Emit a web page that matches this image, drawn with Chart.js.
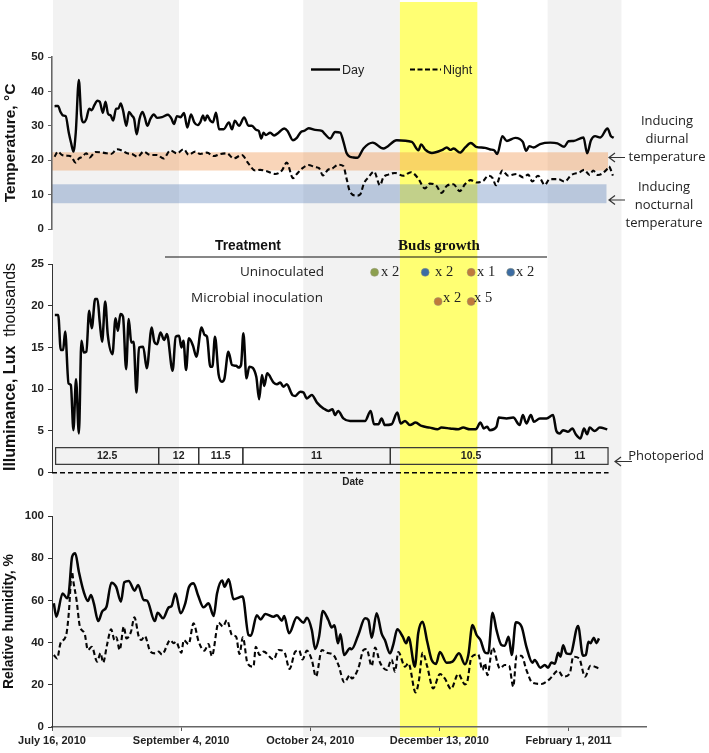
<!DOCTYPE html>
<html>
<head>
<meta charset="utf-8">
<title>Temperature, illuminance and humidity</title>
<script src="https://cdn.jsdelivr.net/npm/chart.js"></script>
<style>
body { margin: 0; background: #fff; width: 709px; height: 753px; position: relative; overflow: hidden; font-family: "Liberation Sans", Arial, sans-serif; color: #222; }
canvas { position: absolute; left: 0; }
#chartTemp { top: 0; }
#chartLux { top: 240px; }
#chartRh { top: 490px; }
svg { position: absolute; left: 0; top: 0; }
.t { position: absolute; white-space: nowrap; transform: translate(-50%, -50%); }
.note { font: 13px "Open Sans", sans-serif; color: #222; }
.count { font: 14.5px "Liberation Serif", serif; color: #222; transform: translate(0, -50%); }
.side { font: 16px "Liberation Sans", sans-serif; transform: translate(-50%, -50%) rotate(-90deg); color: #111; }
</style>
</head>
<body>
<canvas id="chartTemp" width="709" height="240"></canvas>
<canvas id="chartLux" width="709" height="250"></canvas>
<canvas id="chartRh" width="709" height="263"></canvas>

<svg width="709" height="753" fill="none" stroke="#333" stroke-width="1.2">
  <path d="M311 69.5H340" stroke="#000" stroke-width="2.4"/>
  <path d="M410 69.5H441" stroke="#000" stroke-width="2.2" stroke-dasharray="5 2.5"/>
  <path d="M165 257H547" stroke="#111" stroke-width="1.2"/>
  <path d="M625 157.5H609M615 153L609 157.5L615 162"/>
  <path d="M625 200H609M615 195.5L609 200L615 204.5"/>
  <path d="M632 461.5H615M621 457L615 461.5L621 466"/>
</svg>

<div class="t" style="left:342px;top:70px;font-size:12.5px;transform:translate(0,-50%)">Day</div>
<div class="t" style="left:443px;top:70px;font-size:12.5px;transform:translate(0,-50%)">Night</div>

<div class="t note" style="left:667px;top:120px">Inducing</div>
<div class="t note" style="left:667px;top:138px">diurnal</div>
<div class="t note" style="left:667px;top:156px">temperature</div>
<div class="t note" style="left:664px;top:186px">Inducing</div>
<div class="t note" style="left:664px;top:204px">nocturnal</div>
<div class="t note" style="left:664px;top:222px">temperature</div>
<div class="t note" style="left:666px;top:455px">Photoperiod</div>

<div class="t" style="left:248px;top:245px;font-size:13.8px;font-weight:bold;color:#111">Treatment</div>
<div class="t" style="left:439px;top:245px;font:bold 15px 'Liberation Serif',serif;color:#111">Buds growth</div>
<div class="t note" style="left:282px;top:271px;font-size:13.5px">Uninoculated</div>
<div class="t note" style="left:257px;top:297px;font-size:13.5px">Microbial inoculation</div>
<div class="t count" style="left:381px;top:271px">x 2</div>
<div class="t count" style="left:435px;top:271px">x 2</div>
<div class="t count" style="left:477px;top:271px">x 1</div>
<div class="t count" style="left:516px;top:271px">x 2</div>
<div class="t count" style="left:443px;top:297px">x 2</div>
<div class="t count" style="left:474px;top:297px">x 5</div>
<div class="t" style="left:353px;top:481px;font-size:10px;font-weight:bold">Date</div>

<div class="t side" style="left:10px;top:367px"><b>Illuminance, Lux</b>&nbsp;&nbsp;thousands</div>

<script>
// dates on the shared x axis, counted in days since July 16, 2010
var xTickDays = [0, 50, 100, 150, 200];
var xTickLabels = ['July 16, 2010', 'September 4, 2010', 'October 24, 2010', 'December 13, 2010', 'February 1, 2011'];

var tempDayX = [1,2.3,3.3,4.3,5.3,6.5,7.4,8.3,9.2,10.4,11.3,12.3,13.3,14.4,15.4,16.4,17.6,18.5,19.7,20.7,21.7,22.7,23.7,24.8,25.7,26.6,27.5,28.8,29.8,30.9,31.8,32.8,33.9,35,35.9,36.9,38.1,39.4,40.7,42.6,44.9,46.3,47.2,48.4,49.8,51.1,52.4,53.8,55.1,56.4,57.4,58.5,59.2,60.1,61.3,62.3,63.5,64.7,66.5,68.5,69.7,70.8,72.4,74.4,76.1,77.4,79.1,80.1,81,81.9,82.8,84.5,86,87.7,89.9,91.2,93.3,94.8,96.5,97.6,99.4,101.9,104.5,105.8,107.7,109.6,111.6,112.8,114.1,115.4,116.7,118.3,120.6,124.2,128.3,133.5,139.3,141.9,142.9,144.5,147.1,150.9,152.9,154.2,155.5,158,160,162.2,164.2,167.7,169.7,171.2,172.4,174.4,176.1,179.4,182.3,183.6,184.8,186.4,189,192.9,195.7,198.3,200,201.9,205.8,207.2,208.7,210.3,212.3,215.1,216.4,217.5];
var tempDay = [35.7,35.8,34,33,32.8,28,25,22.5,28,43.3,33,31,32,35,34.5,36,37.3,37,33.8,37,33.5,33,31.5,35,35,36.5,34.5,30,34,33,32,27.5,32,34,32.5,30,32,33.3,32.3,32.5,33.2,32,30.5,32.8,32.5,33.7,29.5,33.3,31,30.2,31,33,31.5,33,31.5,31,33.8,29,29,31,29,31.5,30,32.4,30,30,28.8,28.5,26.3,28,27.3,28,27.2,28,29.2,28.5,25.8,26.5,28.3,28.5,29.3,28.8,28.5,27.5,26.3,28.2,28,25.5,22,21,20.8,20.7,23.4,25.1,23.4,25.8,25.3,22.9,24.6,23.1,22.1,22.9,23.7,23,23.4,22.2,23.7,25,23.9,23.6,23.1,22.9,21.8,27,25.6,26.5,25.3,22.7,24.1,23.7,24.7,25.1,24.9,23.9,25.5,25.6,26.6,22,25.8,27,26.6,29.2,27,26.5];

var tempNightX = [1,2.3,3.9,5.9,7.5,9.1,10.4,11.7,13.3,14.6,16.8,18.8,21.1,22.9,25.2,27.1,29.1,31,33.2,35.5,38.1,40.7,43.2,45.8,48.4,51,52.9,55.5,57.4,60,62.6,65.2,67.7,70.3,73.5,76.1,78.7,80.6,83.2,86.4,89,90.9,93.3,94.8,96.7,99.3,101.9,103.4,104.9,107,108.3,110.9,112.8,114.1,115.4,118,119.3,120.8,122.5,124.7,127,128.3,130.2,132.8,136,139,141.8,144.4,146.3,148.7,150.9,152.8,155.4,157.9,159.9,162.1,164.4,167,168.9,170.6,171.9,174.4,176.6,179.9,182.4,184.4,186,188.2,190.8,192.7,196,198.5,201.1,204.3,206,208.2,209.5,211.4,214.7,215.6,217.2];
var tempNight = [21,22.5,21.5,21.3,21,19.3,20.5,21,22,20.8,22.4,22.3,22,21.8,23.2,22.8,22,21.8,21,22.5,21.5,21.5,20.5,22.8,22,23.2,21.6,22.5,21.8,22.2,21.2,21.8,22,20.5,21.5,19,17,17.2,16.8,16,17,19.3,14.8,16,17.5,18.6,18,17.7,15.6,17.3,17.5,18.7,18.3,14.5,10.8,9.7,10,13.3,15,16.7,12.7,15,15.8,16.3,15.5,16.5,14.7,11.8,13.2,12.7,10.5,12.5,13,11,13,14.2,13.5,14,15.5,14.8,12.7,17,15.5,16,15,15.8,13.8,15.5,12.8,14.5,14.5,13.8,15.7,16.5,17.2,15.7,17,15.7,17.2,18.2,15.5];

var luxX = [1.1,2.4,3.4,4.3,5.1,6.4,7.3,8.3,9.3,10.4,11.4,12.3,13.3,14.4,15.4,16.7,17.6,18.5,19.4,20.6,21.6,23.4,24.6,25.5,26.5,27.5,28.7,29.7,30.7,31.6,32.7,33.7,35.3,36.7,38.6,39.6,40.7,42,43.4,44.5,46.7,47.9,49.2,50.1,50.9,51.9,53,54.6,55.9,57.9,59.1,60,61.3,62.1,63.1,64.5,65.8,66.7,68.3,69.7,71.3,72.2,73.2,74.1,75.3,76.4,79.1,80.2,81.3,82.2,83.3,85.8,87.1,88.4,89.6,90.9,93.1,94.2,96.1,97.4,98.7,100.6,102.6,105.1,107,108.6,109.6,110.8,112.8,115.4,117.3,119.3,121.2,123.4,124.7,126.4,127.6,128.9,131.5,133.7,135,136.7,138.6,140.8,143.1,146.3,149.2,150.8,154.1,157.3,159.2,161.8,164.1,165.9,167.2,168.5,169.5,172.1,173,176,178.6,181.1,182.3,183.7,185.4,186.6,188.9,191.5,194,195.3,196.6,197.9,199.8,201.5,202.8,204.6,206,207.2,208.2,210.1,212.1,215];
var lux = [18.9,18.9,14.7,14.7,16.9,10.7,10.5,5.1,11.2,4.7,15.8,14.4,14.5,19.4,17.3,20.8,20.8,18,15.7,20.5,16.5,14.2,18.5,17,19,18.7,12.4,18.4,15.6,15.7,9.6,15,15.1,12.5,17.4,15.7,15.4,16.8,15.9,16.6,12.2,16.3,16.4,15,15.8,12.3,16.1,15.2,13.9,17.4,16.5,16.3,12.7,12.7,16.3,11.8,10.9,11.2,14.5,12.9,12.8,12.6,12.9,16.7,11.3,12.7,11.5,8.8,11.7,10.4,11.9,10.8,10.6,10.8,10.3,10.6,9.3,9.2,9.7,9.6,8.9,9.3,8.4,7.7,7.4,7.6,6.9,7.4,6.5,6.2,6.2,6.2,6.2,7.4,5.8,5.8,6.5,5.7,5.8,7.2,5.9,6.2,5.7,6,5.6,5.4,5.2,5.4,5.3,5.2,5.4,5.2,5.2,6,5.3,5.5,5.1,5.5,6.6,6.5,6.6,5.7,6.9,5.9,6.9,6.1,6.5,6.5,6.9,5,4.7,5.1,4.9,5.3,4.6,4.1,5.3,4.6,5.4,5,5.4,5.2];

var rhDayX = [0.7,1.7,4.1,5.9,6.5,7.8,9,10.4,12.3,13.9,15.1,16.2,17.9,19.4,21.1,23,24.8,26.7,28,29.7,32,33.3,35.5,36.8,39.8,40.9,43,45.2,46.3,47.8,49.8,51.6,53,54.8,56.5,58.7,60.6,62.6,63.9,65.9,66.8,68.4,70.3,73.8,76.1,77,79.3,80.8,82.6,85.8,87.1,89,89.9,91.8,94.8,97.4,98.7,100.6,101.9,103.4,104.9,107,108.3,109.4,110.7,111.7,113.1,115.4,116,118.6,121.2,122.5,123.8,125.7,127.6,128.9,130.9,132.2,133.7,135.8,137.1,138.1,140.5,141.8,143.5,145.3,147,148.7,150.2,152.8,155.1,157.6,159.9,161.2,162.8,164.4,165.9,167.6,168.9,170.6,172.1,174,175.3,176.8,178,179.6,181.8,183.7,186,186.9,189.1,190.8,192.1,193.4,194.7,196,196.9,197.9,199.2,200.7,203.7,205.6,206.7,207.7,208.5,209.8,210.8,211.8];
var rhDay = [58.6,52.3,63.3,61,63.3,80.7,82.3,73.6,64,59.7,62.6,58.6,50.2,54.7,57,68.4,66.5,59.4,68.6,69.2,64.6,67.3,60.2,59.9,50.2,54.2,51.5,56.7,57.3,63.3,53.9,58.6,66.2,68.1,62.6,56.7,58.6,52.6,63.3,69.4,66.5,70,60.5,61.8,43.6,43.3,53,51,53.6,52.3,53,50.4,52.6,44.4,52,49.4,51.8,46,37,42.8,55,50.7,47.2,48.2,39.7,44,34.1,37.3,36.8,43.6,51.5,50.7,42.3,53.9,44.4,41.2,34.9,39.3,46.3,42.8,39.7,42.5,28.6,44.4,49.9,40.4,31.8,29.9,35.5,30.5,31,34.9,29.7,34.1,48.3,43.6,41.2,35.4,34.9,54.2,46,38.9,38.5,42.8,34.1,49.6,47.6,38,30.5,31.8,28.1,29.4,28.1,30.6,30,35.2,33.3,38.7,34.9,34.6,47.9,33.8,34.1,40.4,39.7,42.3,39.7,42];

var rhNightX = [0.7,2,3.3,5.5,6.5,7.7,8.4,9.5,10.8,12.6,13.9,15.4,17.5,18.8,19.8,21.3,22.9,24.2,24.9,26.2,27.8,28.8,30.6,31.9,33.6,34.6,35.9,38.1,40,41.3,42.6,45.8,47.1,48,50.1,51,52.9,54.8,56.8,59,60.6,61.9,64.5,66.2,67.7,69.7,71.3,72.6,73.9,75.7,78,78.9,80.4,81.9,85.8,87.7,89.9,92,94.2,95.7,97,98.7,100.6,102.2,104.5,106.4,109,110.9,113.2,115.4,116,118.6,120.6,121.8,123.8,125.1,127,129.6,131.5,132.8,134.1,136.7,138,140.8,142.1,143.5,145.3,147.6,150.2,152.1,154.5,157.3,159.9,160.8,162.4,165,166.7,167.6,168.6,170.6,173.4,175.3,177,178.6,179.9,181.8,183.7,186,189.5,192.7,196,197.9,200.5,201.8,204.1,206.4,208.5,211.8];
var rhNight = [34.1,32.5,39.7,43.6,53.9,73.6,68,60.2,47.6,44.4,36.5,38,31,35,30.5,38.9,46.3,41.2,42.5,36.5,47.6,42,45.2,52,42.8,41.2,43.1,35.7,34.9,35.7,34.4,41.2,39.7,40.4,35.2,41.2,39.3,49.1,40.4,36.2,39.3,33.6,49.4,47.6,50.7,43.6,42.8,34.6,42.5,30.2,28.6,38,34.1,35.7,32,36.5,35.7,27.5,35.7,36.2,32,36.2,31.8,23.9,36.5,35.2,34.1,29.4,21.2,24.6,23,27.8,36.5,37,28.9,37.6,30.6,27,32,26.2,35.5,28.6,30.2,16.4,22.3,35.2,28.6,18.3,25.1,23,18,25.1,20.2,21.5,33,34.4,27,30.2,24.6,37.6,27.8,29.4,29,19.1,33.8,33.8,27,21,20.4,22.7,26.7,23.9,25.4,33.3,32.5,23.9,29,27.8];

// inducing temperature ranges, degrees C
var diurnalRange = [17, 22.3];
var nocturnalRange = [7.5, 13];

// photoperiod, hours per day, between day-number edges
var photoEdges = [1.4, 41.3, 56.8, 73.9, 131, 193.5, 215.3];
var photoLabels = ['12.5', '12', '11.5', '11', '10.5', '11'];
var photoBox = [1, 3];

// buds growth markers on the illuminance panel
var budDays = [124.9, 144.5, 162.3, 177.6, 149.5, 162.3];
var budRows = [24, 24, 24, 24, 20.5, 20.5];
var budColors = ['#8c9f4f', '#3c6ca3', '#bf7a3b', '#3c6ca3', '#bf7a3b', '#bf7a3b'];

// shaded date ranges
var grayBands = [[0.4, 49.2], [97.3, 134.7], [191.9, 220.5]];
var yellowBand = [134.7, 164.7];

function zip(xs, ys) {
    return xs.map(function(x, i) {
        return { x: x, y: ys[i] };
    });
}

function solid(xs, ys, w) {
    return { data: zip(xs, ys), borderColor: '#050505', borderWidth: w, pointRadius: 0, cubicInterpolationMode: 'monotone', clip: false };
}

function dashed(xs, ys, w) {
    var ds = solid(xs, ys, w);
    ds.borderDash = [5, 3];
    return ds;
}

// vertical date bands, running over the whole canvas so the panels join up
var bandsPlugin = {
    id: 'bands',
    beforeDraw: function(chart, args, opts) {
        var ctx = chart.ctx, x = chart.scales.x;
        var top = opts.top || 0, bottom = opts.bottom || chart.height;
        ctx.save();
        ctx.fillStyle = '#f2f2f2';
        grayBands.forEach(function(b) {
            ctx.fillRect(x.getPixelForValue(b[0]), top, x.getPixelForValue(b[1]) - x.getPixelForValue(b[0]), bottom - top);
        });
        ctx.fillStyle = '#ffff73';
        ctx.fillRect(x.getPixelForValue(yellowBand[0]), top + (opts.yellowTop || 0), x.getPixelForValue(yellowBand[1]) - x.getPixelForValue(yellowBand[0]), bottom - top - (opts.yellowTop || 0));
        if (opts.ranges) {
            var y = chart.scales.y;
            ctx.fillStyle = 'rgba(240,150,80,0.4)';
            ctx.fillRect(x.left, y.getPixelForValue(diurnalRange[1]), x.getPixelForValue(photoEdges[6]) - x.left, y.getPixelForValue(diurnalRange[0]) - y.getPixelForValue(diurnalRange[1]));
            ctx.fillStyle = 'rgba(80,120,180,0.35)';
            ctx.fillRect(x.left, y.getPixelForValue(nocturnalRange[1]), x.getPixelForValue(214.7) - x.left, y.getPixelForValue(nocturnalRange[0]) - y.getPixelForValue(nocturnalRange[1]));
        }
        ctx.restore();
    }
};

var photoPlugin = {
    id: 'photo',
    afterDatasetsDraw: function(chart, args, opts) {
        if (!opts.show) return;
        var ctx = chart.ctx, x = chart.scales.x, y = chart.scales.y;
        var top = y.getPixelForValue(photoBox[1]), bottom = y.getPixelForValue(photoBox[0]);
        ctx.save();
        ctx.strokeStyle = '#333';
        ctx.lineWidth = 1.2;
        ctx.fillStyle = '#222';
        ctx.font = 'bold 10.5px "Liberation Sans"';
        ctx.textAlign = 'center';
        ctx.textBaseline = 'middle';
        photoLabels.forEach(function(label, i) {
            var l = x.getPixelForValue(photoEdges[i]), r = x.getPixelForValue(photoEdges[i + 1]);
            ctx.strokeRect(l, top, r - l, bottom - top);
            ctx.fillText(label, (l + r) / 2, (top + bottom) / 2);
        });
        ctx.restore();
    }
};

function xAxis(show) {
    return {
        type: 'linear',
        min: 0,
        max: 230,
        display: show,
        afterFit: function(axis) { axis.height = show ? 22 : 0; },
        grid: { drawOnChartArea: false, drawTicks: true, tickLength: 4, color: '#555' },
        border: { color: '#666', width: 1.5 },
        ticks: {
            stepSize: 50,
            includeBounds: false,
            maxRotation: 0,
            autoSkip: false,
            padding: 3,
            color: '#222',
            font: { family: 'Liberation Sans', size: 11, weight: 'bold' },
            callback: function(v) {
                return xTickLabels[xTickDays.indexOf(v)];
            }
        }
    };
}

function yAxis(max, step, title, titleSize, axisColor, axisWidth) {
    return {
        min: 0,
        max: max,
        afterFit: function(axis) { axis.width = 52; },
        grid: { drawOnChartArea: false, tickLength: 4, color: axisColor },
        border: { color: axisColor, width: axisWidth },
        title: { display: !!title, text: title, color: '#111', padding: { top: 1, bottom: 0 }, font: { family: 'Liberation Sans', size: titleSize, weight: 'bold' } },
        ticks: {
            stepSize: step,
            padding: 4,
            color: '#222',
            font: { family: 'Liberation Sans', size: 11.5, weight: 'bold' }
        }
    };
}

function makeChart(id, datasets, yScale, xShown, padding, bandOpts, photoShow) {
    return new Chart(document.getElementById(id).getContext('2d'), {
        type: 'line',
        data: { datasets: datasets },
        options: {
            responsive: false,
            animation: false,
            parsing: false,
            normalized: true,
            layout: { padding: padding },
            scales: { x: xAxis(xShown), y: yScale },
            plugins: {
                legend: { display: false },
                tooltip: { enabled: false },
                bands: bandOpts,
                photo: { show: photoShow }
            }
        },
        plugins: [bandsPlugin, photoPlugin]
    });
}

makeChart('chartTemp', [
    solid(tempDayX, tempDay, 2.4),
    dashed(tempNightX, tempNight, 2.1)
], yAxis(50, 10, 'Temperature, °C', 15.5, '#666', 1.6), false,
    { top: 57, bottom: 11, left: 0, right: 63 }, { ranges: true, yellowTop: 2 }, false);

makeChart('chartLux', [
    solid(luxX, lux, 2.5),
    dashed([0, 215.5], [0, 0], 1.5),
    {
        type: 'scatter',
        data: zip(budDays, budRows),
        pointRadius: 4,
        pointBackgroundColor: budColors,
        pointBorderColor: 'rgba(150,150,120,0.5)',
        pointBorderWidth: 1,
        showLine: false,
        clip: false
    }
], yAxis(25, 5, '', 15, '#333', 1), false,
    { top: 24, bottom: 17.3, left: 0, right: 63 }, {}, true);

makeChart('chartRh', [
    solid(rhDayX, rhDay, 2.5),
    dashed(rhNightX, rhNight, 2.1)
], yAxis(100, 20, 'Relative humidity, %', 14, '#333', 1), true,
    { top: 26, bottom: 4, left: 0, right: 63 }, { bottom: 247 }, false);
</script>
</body>
</html>
